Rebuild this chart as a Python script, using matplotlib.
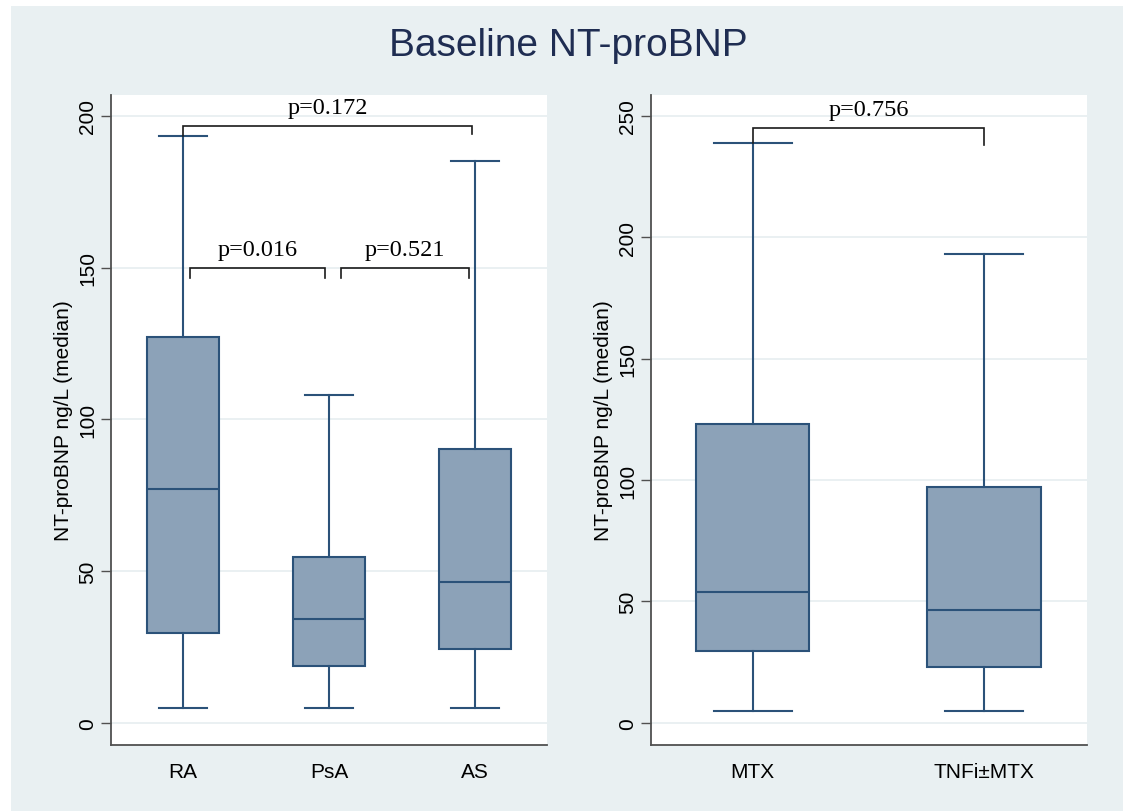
import matplotlib.pyplot as plt
from matplotlib.patches import Rectangle

# group summaries (ng/L)
left_groups = ['RA', 'PsA', 'AS']
left_low = [5, 5, 5]
left_q1 = [29.7, 18.8, 24.5]
left_med = [77, 34.3, 46.5]
left_q3 = [127.3, 54.5, 90.3]
left_high = [193.3, 108, 185.3]

right_groups = ['MTX', 'TNFi±MTX']
right_low = [5, 5]
right_q1 = [29.7, 23]
right_med = [54, 46.5]
right_q3 = [123.3, 97]
right_high = [238.8, 193]

# comparison brackets: (x start, x end, bracket level, leg ends, label)
left_brackets = [
    (1.0, 2.98, 196.7, (193.3, 194), 'p=0.172'),
    (1.05, 1.97, 150, (146.5, 146.5), 'p=0.016'),
    (2.08, 2.96, 150, (146.5, 146.5), 'p=0.521'),
]
right_brackets = [
    (1.0, 2.0, 245, (239, 238), 'p=0.756'),
]

BG = '#e9f0f2'
FILL = '#8ca2b8'
EDGE = '#2b5279'
GRID = '#e6edf0'


def make_stats(groups, low, q1, med, q3, high):
    stats = []
    for i, g in enumerate(groups):
        stats.append({'label': g, 'whislo': low[i], 'q1': q1[i], 'med': med[i],
                      'q3': q3[i], 'whishi': high[i], 'fliers': []})
    return stats


def draw_panel(ax, stats, brackets, widths, capwidth, ylim, ticks):
    ax.set_facecolor('white')
    ax.bxp(stats, widths=widths, patch_artist=True, showfliers=False, capwidths=capwidth,
           boxprops=dict(facecolor=FILL, edgecolor=EDGE, linewidth=1.5),
           medianprops=dict(color=EDGE, linewidth=1.5),
           whiskerprops=dict(color=EDGE, linewidth=1.5),
           capprops=dict(color=EDGE, linewidth=1.5))
    ax.set_ylim(*ylim)
    ax.set_yticks(ticks)
    ax.set_yticklabels([str(t) for t in ticks], rotation=90, va='center', fontsize=15,
                       family='Liberation Sans')
    ax.tick_params(axis='y', length=7, width=1, color='#505050', pad=3)
    ax.tick_params(axis='x', length=0, pad=12, labelsize=15)
    for lab in ax.get_xticklabels():
        lab.set_family('Liberation Sans')
    ax.grid(axis='y', color=GRID, linewidth=1.2)
    ax.set_axisbelow(True)
    for side in ['top', 'right']:
        ax.spines[side].set_visible(False)
    for side in ['left', 'bottom']:
        ax.spines[side].set_color('#505050')
        ax.spines[side].set_linewidth(1.3)
    ax.set_ylabel('NT-proBNP ng/L (median)', fontsize=15, family='Liberation Sans')
    ax.yaxis.set_label_coords(-0.108, 0.5)
    ax.yaxis.label.set_va('center')

    span = ylim[1] - ylim[0]
    for x0, x1, y, (e0, e1), label in brackets:
        ax.plot([x0, x0, x1, x1], [e0, y, y, e1], color='#1a1a1a', linewidth=1.2,
                solid_joinstyle='miter')
        ax.text((x0 + x1) / 2, y + span * 0.012, label, ha='center', va='bottom',
                fontsize=17.5, family='Liberation Serif')


fig = plt.figure(figsize=(11.27, 8.12), dpi=100)
fig.patch.set_facecolor('white')
fig.patches.append(Rectangle((11 / 1127, 0), (1123 - 11) / 1127, (812 - 7) / 812,
                             transform=fig.transFigure, facecolor=BG, edgecolor='none', zorder=-10))

ax1 = fig.add_axes([111 / 1127, 66 / 812, 436 / 1127, 650 / 812])
ax2 = fig.add_axes([651 / 1127, 66 / 812, 436 / 1127, 650 / 812])

draw_panel(ax1, make_stats(left_groups, left_low, left_q1, left_med, left_q3, left_high),
           left_brackets, 0.49, 0.33, (-7.3, 206.9), [0, 50, 100, 150, 200])
ax1.set_xlim(0.507, 3.493)

draw_panel(ax2, make_stats(right_groups, right_low, right_q1, right_med, right_q3, right_high),
           right_brackets, 0.49, 0.337, (-9.1, 258.6), [0, 50, 100, 150, 200, 250])
ax2.set_xlim(0.56, 2.445)

fig.text(568 / 1127, 1 - 46 / 812, 'Baseline NT-proBNP', ha='center', va='center',
         fontsize=28, color='#1f2d52', family='Liberation Sans')

plt.savefig('out.png', dpi=100, facecolor=fig.get_facecolor())
plt.close()
